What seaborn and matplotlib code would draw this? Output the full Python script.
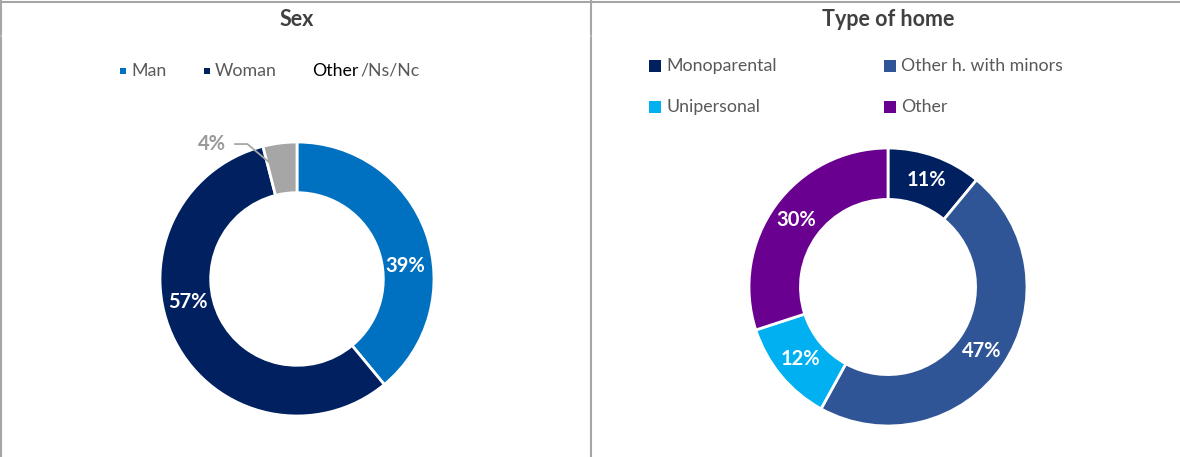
import numpy as np
import matplotlib
matplotlib.use("Agg")
import matplotlib.pyplot as plt
from matplotlib.lines import Line2D
from matplotlib.patches import Rectangle
import seaborn as sns

# data
sex_labels = ["Man", "Woman", "Other /Ns/Nc"]
sex_values = [39, 57, 4]
sex_colors = ["#0070C0", "#002060", "#A6A6A6"]

home_labels = ["Monoparental", "Other h. with minors", "Unipersonal", "Other"]
home_values = [11, 47, 12, 30]
home_colors = ["#002060", "#2F5597", "#00B0F0", "#6A008F"]

sns.set_theme(style="white")
plt.rcParams["font.family"] = ["Lato", "DejaVu Sans"]

W, H = 1180, 457
fig = plt.figure(figsize=(W / 100, H / 100), dpi=100)

LBL = 14.5
LEG = 12.8


def px_axes(cx, cy, r):
    return fig.add_axes([(cx - r) / W, 1 - (cy + r) / H, 2 * r / W, 2 * r / H])


def donut(ax, values, colors):
    wedges, _ = ax.pie(values, colors=colors, startangle=90, counterclock=False,
                       radius=1, wedgeprops=dict(width=0.37, edgecolor="white", linewidth=2))
    ax.set_xlim(-1, 1)
    ax.set_ylim(-1, 1)
    ax.set_aspect("equal")
    ax.axis("off")
    return wedges


def mid_xy(w, r):
    ang = np.deg2rad((w.theta1 + w.theta2) / 2)
    return r * np.cos(ang), r * np.sin(ang)


def legend_item(x, y, size, color, label):
    fig.add_artist(Rectangle(((x) / W, 1 - (y + size / 2) / H), size / W, size / H,
                             color=color, lw=0))
    fig.text((x + size + 5) / W, 1 - y / H, label, ha="left", va="center",
             fontsize=LEG, color="#595959")


# left donut: Sex
ax1 = px_axes(297, 279, 137)
w1 = donut(ax1, sex_values, sex_colors)
# labels were moved by hand in the original, place them where they sit
for (dx, dy), v in zip([(108, 13), (-109, -23)], sex_values[:2]):
    ax1.text(dx / 137, dy / 137, f"{v}%", color="white", fontsize=LBL, fontweight="bold",
             ha="center", va="center")
g = w1[2]
lo, hi = sorted([g.theta1, g.theta2])
ang = np.deg2rad(hi - 0.14 * (hi - lo))
ax1.annotate(f"{sex_values[2]}%", xy=(0.855 * np.cos(ang), 0.855 * np.sin(ang)),
             xytext=(-0.62, 0.985),
             color="#999999", fontsize=LBL, fontweight="bold", ha="center", va="center",
             annotation_clip=False,
             arrowprops=dict(arrowstyle="-", color="#A6A6A6", lw=1.3,
                             shrinkA=4, shrinkB=0,
                             connectionstyle="angle,angleA=0,angleB=140,rad=0"))

# right donut: Type of home
ax2 = px_axes(888, 287, 139)
w2 = donut(ax2, home_values, home_colors)
for w, v in zip(w2, home_values):
    x, y = mid_xy(w, 0.815)
    ax2.text(x, y, f"{v}%", color="white", fontsize=LBL, fontweight="bold",
             ha="center", va="center")

# titles
fig.text(297 / W, 1 - 19 / H, "Sex", ha="center", va="center", fontsize=15.5,
         fontweight="bold", color="#404040")
fig.text(888 / W, 1 - 19 / H, "Type of home", ha="center", va="center", fontsize=15.5,
         fontweight="bold", color="#404040")

# legends
legend_item(120, 71, 6, sex_colors[0], sex_labels[0])
legend_item(204, 71, 6, sex_colors[1], sex_labels[1])
fig.text(312 / W, 1 - 71 / H, "Other", ha="left", va="center", fontsize=LEG, color="black")
fig.text(360 / W, 1 - 71 / H, "/Ns/Nc", ha="left", va="center", fontsize=LEG, color="#595959")

legend_item(649, 66, 12, home_colors[0], home_labels[0])
legend_item(884, 66, 12, home_colors[1], home_labels[1])
legend_item(649, 107, 12, home_colors[2], home_labels[2])
legend_item(884, 107, 12, home_colors[3], home_labels[3])

# table borders
bc = "#A6A6A6"
for xs, ys in [((0, W), (1.5, 1.5)), ((1, 1), (0, 35)), ((1, 1), (37, H)),
               ((591, 591), (0, 35)), ((591, 591), (37, H))]:
    fig.add_artist(Line2D([x / W for x in xs], [1 - y / H for y in ys], color=bc, lw=1.5))

fig.savefig("out.png", dpi=100)
